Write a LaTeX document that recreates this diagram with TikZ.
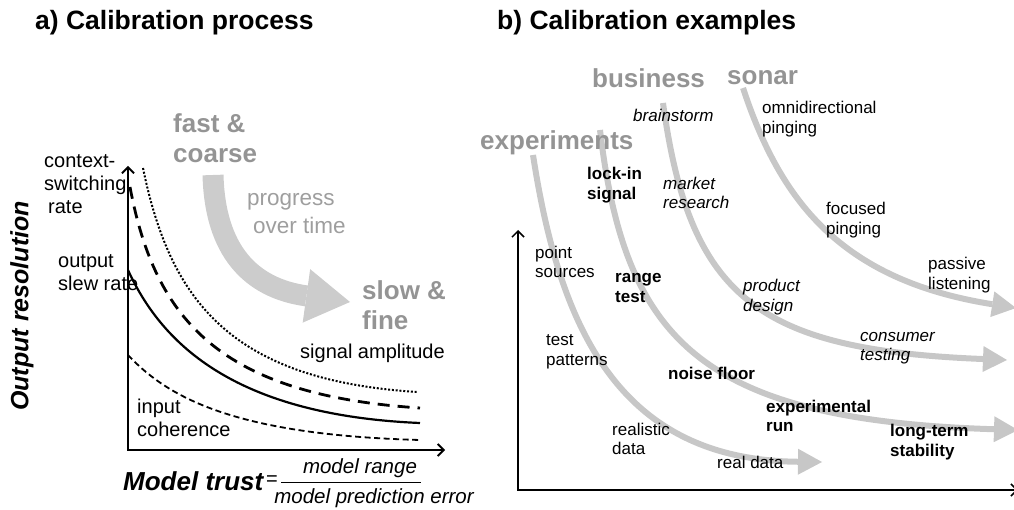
\documentclass[tikz,border=0pt]{standalone}
\usepackage{fontspec}
\setmainfont{Liberation Sans}
\usetikzlibrary{arrows.meta}
\begin{document}
\begin{tikzpicture}[x=1pt,y=-1pt,
    lbl/.style={font=\fontsize{20}{23}\selectfont,align=left,inner sep=0pt,anchor=west},
    ex/.style={font=\fontsize{17}{19.5}\selectfont,align=left,inner sep=0pt,anchor=west},
    exb/.style={ex,font=\fontsize{17}{19.5}\selectfont\bfseries},
    exi/.style={ex,font=\fontsize{17}{19.5}\selectfont\itshape},
    head/.style={font=\fontsize{26}{30}\selectfont\bfseries,text=black!42,align=left,inner sep=0pt,anchor=west},
    ttl/.style={font=\fontsize{26.5}{30}\selectfont\bfseries,inner sep=0pt,anchor=base west},
    flow/.style={draw=black!22,line width=6pt,-{Triangle[width=26pt,length=24pt,line width=0pt]}},
    axes/.style={line width=1.8pt,{Straight Barb[length=6pt,width=12pt]}-{Straight Barb[length=6pt,width=12pt]}}]
  \useasboundingbox (0,0) rectangle (1014,510);
  \node[ttl] (ttla) at (35,30) {a) Calibration process};
  \node[ttl] (ttlb) at (497,30) {b) Calibration examples};
  % a) process
  \draw[draw=black!20,line width=21pt,-{Triangle[width=54pt,length=44pt,line width=0pt]}]
    (213,175) .. controls (215,250) and (250,288) .. (350,302);
  \coordinate (ytop) at (128,166);
  \coordinate (orig) at (128,450);
  \coordinate (xend) at (445,450);
  \draw[axes] (ytop) -- (orig) -- (xend);
  \draw[line width=2pt,dash pattern=on 2pt off 1.8pt] (143,168) .. controls (170,300) and (230,380) .. (417,392);
  \draw[line width=2.8pt,dash pattern=on 12pt off 8pt] (130,187) .. controls (155,320) and (220,395) .. (420,408);
  \draw[line width=2.2pt] (128,270) .. controls (160,340) and (230,415) .. (420,423);
  \draw[line width=1.8pt,dash pattern=on 6pt off 3.5pt] (128,355) .. controls (170,400) and (240,435) .. (420,440);
  \node[lbl] (ctx) at (44,184) {context-\\switching\\\hspace*{4pt}rate};
  \node[lbl] (slew) at (58,273) {output\\slew rate};
  \node[lbl] (coh) at (137,418) {input\\coherence};
  \node[lbl] (amp) at (300,353) {signal amplitude};
  \node[head] (fast) at (173,138) {fast \&\\coarse};
  \node[lbl,text=black!38,font=\fontsize{22.5}{28}\selectfont] (prog) at (247,214) {progress\\\hspace*{6pt}over time};
  \node[head] (slow) at (362,305) {slow \&\\fine};
  \node[font=\fontsize{25}{30}\selectfont\bfseries\itshape,rotate=90,inner sep=0pt] (res) at (22,306) {Output resolution};
  \node[font=\fontsize{26}{30}\selectfont\bfseries\itshape,inner sep=0pt,anchor=base west] (trust) at (123,490) {Model trust};
  \node[font=\fontsize{20}{24}\selectfont,inner sep=0pt,anchor=base west] (eq) at (266,485) {=};
  \node[font=\fontsize{20.5}{24}\selectfont\itshape,inner sep=0pt] (num) at (360,468) {model range};
  \node[font=\fontsize{20.5}{24}\selectfont\itshape,inner sep=0pt] (den) at (374,498) {model prediction error};
  \coordinate (fl) at (281,482);
  \coordinate (fr) at (421,482);
  \draw[line width=1pt] (fl) -- (fr);
  % b) examples
  \draw[flow] (533,155) .. controls (560,330) and (620,460) .. (822,462);
  \draw[flow] (600,130) .. controls (625,340) and (700,420) .. (1018,430);
  \draw[flow] (663,103) .. controls (690,300) and (760,350) .. (1007,360);
  \draw[flow] (743,88) .. controls (780,200) and (840,280) .. (1016,308);
  \coordinate (rytop) at (518,230);
  \coordinate (rorig) at (518,490);
  \coordinate (rxend) at (1018,490);
  \draw[axes,line width=1.5pt] (rytop) -- (rorig) -- (rxend);
  \node[head] (expts) at (480,143) {experiments};
  \node[head] (bus) at (592,78) {business};
  \node[head] (sonar) at (727,78) {sonar};
  \node[exi] (brain) at (633,115) {brainstorm};
  \node[ex] (omni) at (762,119) {omnidirectional\\pinging};
  \node[exb] (lock) at (587,185) {lock-in\\signal};
  \node[exi] (mkt) at (663,193) {market\\research};
  \node[ex] (focus) at (826,220) {focused\\pinging};
  \node[ex] (pts) at (535,262) {point\\sources};
  \node[exb] (range) at (615,288) {range\\test};
  \node[exi] (prod) at (743,297) {product\\design};
  \node[ex] (passive) at (928,275) {passive\\listening};
  \node[ex] (patt) at (546,352) {test\\patterns};
  \node[exi] (cons) at (860,348) {consumer\\testing};
  \node[exb] (noise) at (668,373) {noise floor};
  \node[exb] (run) at (766,416) {experimental\\run};
  \node[ex] (realis) at (612,439) {realistic\\data};
  \node[ex] (real) at (717,462) {real data};
  \node[exb] (stab) at (890,442) {long-term\\stability};
\end{tikzpicture}
\end{document}
